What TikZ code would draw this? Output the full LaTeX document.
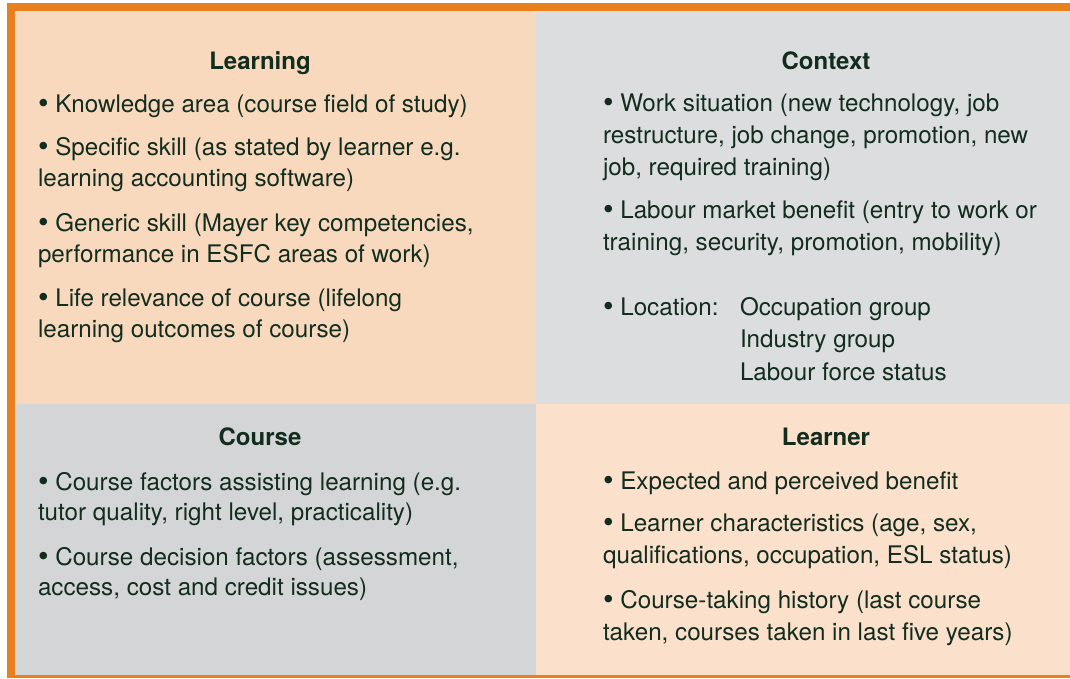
\documentclass[tikz,border=0pt]{standalone}
\usepackage{fontspec}
\setmainfont{TeX Gyre Heros}
\definecolor{frame}{RGB}{232,128,30}
\definecolor{peachA}{RGB}{248,217,190}
\definecolor{peachB}{RGB}{251,224,203}
\definecolor{greyA}{RGB}{220,221,223}
\definecolor{greyB}{RGB}{212,213,215}
\definecolor{ink}{RGB}{18,44,30}
\newcommand{\bul}{\raisebox{-1.2pt}{\scalebox{1.25}{•}}}
\begin{document}
\begin{tikzpicture}[x=1pt,y=-1pt,
  txt/.style={anchor=base west,inner sep=0pt,outer sep=0pt,text=ink,font=\fontsize{24.2}{31}\selectfont},
  head/.style={anchor=base,inner sep=0pt,outer sep=0pt,text=ink,font=\fontsize{24}{31}\selectfont\bfseries}]
\useasboundingbox (0,0) rectangle (1070,678);
\fill[white] (0,0) rectangle (1070,678);
% frame
\fill[frame] (7,3) rectangle (1070,678);
% panels
\fill[peachA] (15,11) rectangle (536,404);
\fill[greyA] (536,11) rectangle (1070,404);
\fill[greyB] (15,404) rectangle (536,675);
\fill[peachB] (536,404) rectangle (1070,675);
% Learning
\node[head] (hL) at (260,69) {Learning};
\node[txt] (L1) at (38,112.7) {\bul{} Knowledge area (course field of study)};
\node[txt] (L2a) at (38,155) {\bul{} Specific skill (as stated by learner e.g.};
\node[txt] (L2b) at (38,186.7) {learning accounting software)};
\node[txt] (L3a) at (38,231.7) {\bul{} Generic skill (Mayer key competencies,};
\node[txt] (L3b) at (38,262.7) {performance in ESFC areas of work)};
\node[txt] (L4a) at (38,306.7) {\bul{} Life relevance of course (lifelong};
\node[txt] (L4b) at (38,337.7) {learning outcomes of course)};
% Context
\node[head] (hC) at (826,69) {Context};
\node[txt] (C1a) at (603,111.7) {\bul{} Work situation (new technology, job};
\node[txt] (C1b) at (603,143.3) {restructure, job change, promotion, new};
\node[txt] (C1c) at (603,175) {job, required training)};
\node[txt] (C2a) at (603,218.3) {\bul{} Labour market benefit (entry to work or};
\node[txt] (C2b) at (603,250) {training, security, promotion, mobility)};
\node[txt] (C3) at (603,315) {\bul{} Location:};
\node[txt] (C3a) at (740,315) {Occupation group};
\node[txt] (C3b) at (740,347) {Industry group};
\node[txt] (C3c) at (740,380) {Labour force status};
% Course
\node[head] (hK) at (260,445) {Course};
\node[txt] (K1a) at (38,490) {\bul{} Course factors assisting learning (e.g.};
\node[txt] (K1b) at (38,520) {tutor quality, right level, practicality)};
\node[txt] (K2a) at (38,565) {\bul{} Course decision factors (assessment,};
\node[txt] (K2b) at (38,595) {access, cost and credit issues)};
% Learner
\node[head] (hR) at (826,445) {Learner};
\node[txt] (R1) at (603,489) {\bul{} Expected and perceived benefit};
\node[txt] (R2a) at (603,531.7) {\bul{} Learner characteristics (age, sex,};
\node[txt] (R2b) at (603,563.3) {qualifications, occupation, ESL status)};
\node[txt] (R3a) at (603,608.3) {\bul{} Course-taking history (last course};
\node[txt] (R3b) at (603,640) {taken, courses taken in last five years)};
\end{tikzpicture}
\end{document}
